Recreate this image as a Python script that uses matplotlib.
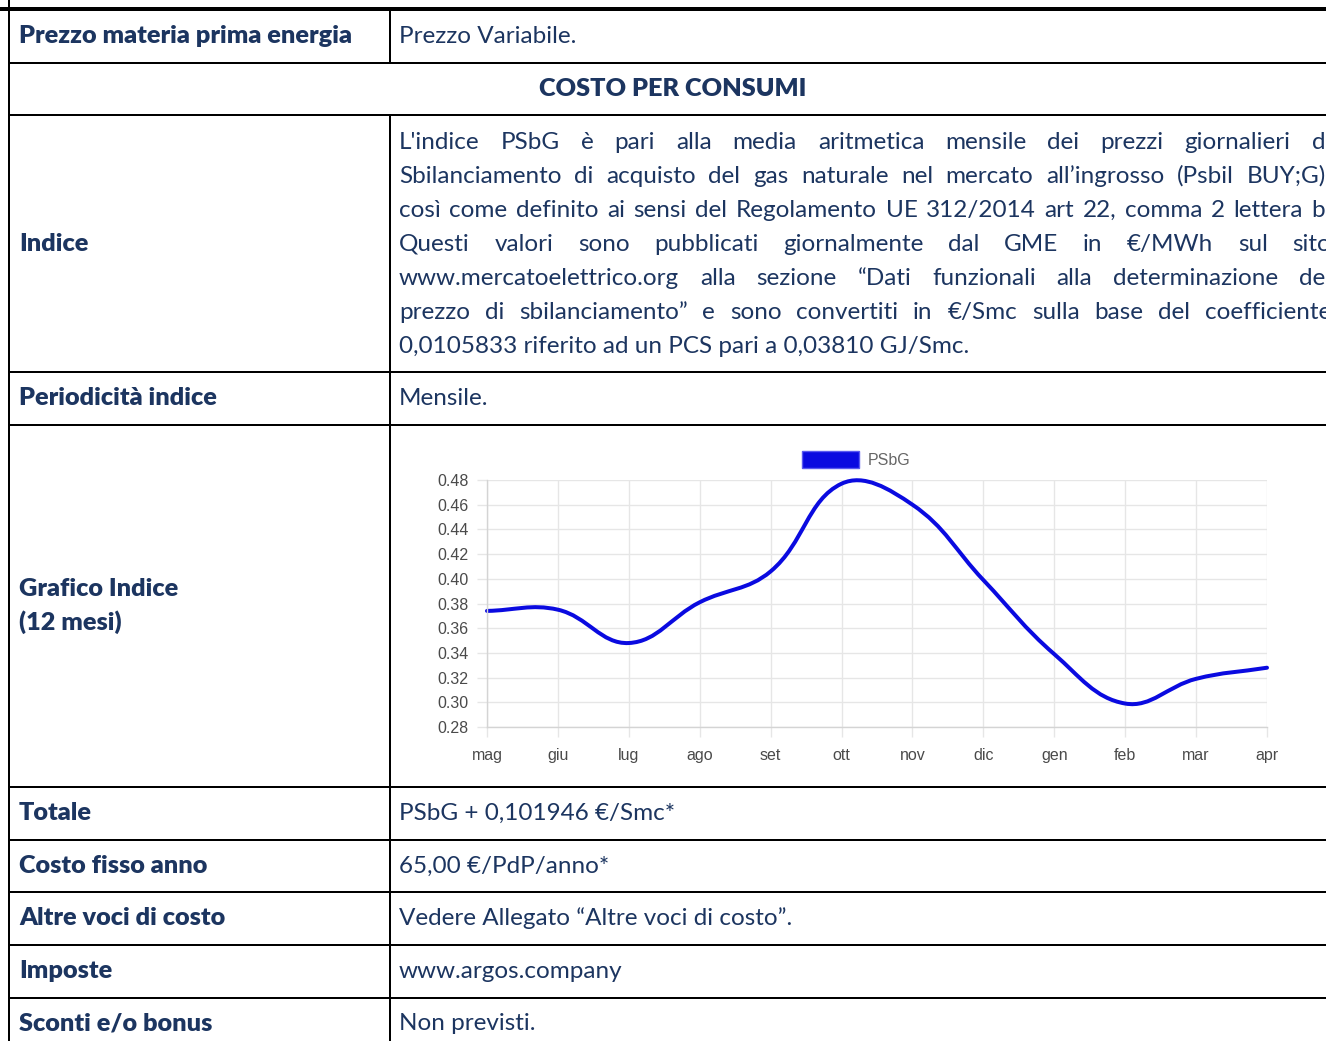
import matplotlib
matplotlib.use("Agg")
import matplotlib.pyplot as plt
import numpy as np
from matplotlib.path import Path
from matplotlib.patches import PathPatch, Patch

# ---------------- data ----------------
months = ["mag", "giu", "lug", "ago", "set", "ott", "nov", "dic", "gen", "feb", "mar", "apr"]
psbg = [0.374, 0.375, 0.348, 0.381, 0.406, 0.477, 0.460, 0.399, 0.339, 0.299, 0.319, 0.328]
y_ticks = [0.28, 0.30, 0.32, 0.34, 0.36, 0.38, 0.40, 0.42, 0.44, 0.46, 0.48]
series_name = "PSbG"

row_labels = ["Prezzo materia prima energia", "Indice", "Periodicità indice", "Grafico Indice\n(12 mesi)",
              "Totale", "Costo fisso anno", "Altre voci di costo", "Imposte", "Sconti e/o bonus"]
section_title = "COSTO PER CONSUMI"
simple_values = {
    "Prezzo materia prima energia": "Prezzo Variabile.",
    "Periodicità indice": "Mensile.",
    "Totale": "PSbG + 0,101946 €/Smc*",
    "Costo fisso anno": "65,00 €/PdP/anno*",
    "Altre voci di costo": "Vedere Allegato “Altre voci di costo”.",
    "Imposte": "www.argos.company",
    "Sconti e/o bonus": "Non previsti.",
}
indice_lines = [
    "L'indice PSbG è pari alla media aritmetica mensile dei prezzi giornalieri di",
    "Sbilanciamento di acquisto del gas naturale nel mercato all’ingrosso (Psbil BUY;G),",
    "così come definito ai sensi del Regolamento UE 312/2014 art 22, comma 2 lettera b.",
    "Questi valori sono pubblicati giornalmente dal GME in €/MWh sul sito",
    "www.mercatoelettrico.org alla sezione “Dati funzionali alla determinazione del",
    "prezzo di sbilanciamento” e sono convertiti in €/Smc sulla base del coefficiente",
    "0,0105833 riferito ad un PCS pari a 0,03810 GJ/Smc.",
]

# ---------------- figure ----------------
W, H = 1326, 1041
fig = plt.figure(figsize=(W / 100, H / 100), dpi=100)
fig.patch.set_facecolor("white")
bg = fig.add_axes([0, 0, 1, 1])
bg.set_xlim(0, W)
bg.set_ylim(H, 0)
bg.axis("off")

NAVY = "#1c3560"
FONT = "Lato"
FS = 17.5
FSB = 18.2
px = 0.72  # points per pixel

# table lines
hlines = [63, 115, 372, 425, 787, 840, 892, 945, 998]
bg.plot([0, W], [9, 9], color="black", lw=4 * px, solid_capstyle="butt")
for y in hlines:
    bg.plot([9, W], [y, y], color="black", lw=2 * px, solid_capstyle="butt")
bg.plot([9, 9], [0, H], color="black", lw=2 * px)
bg.plot([390, 390], [9, 63], color="black", lw=2 * px)
bg.plot([390, 390], [115, H], color="black", lw=2 * px)

fig.canvas.draw()
renderer = fig.canvas.get_renderer()


def put(x, y, s, bold=False, ha="left"):
    return bg.text(x, y, s, fontsize=FSB if bold else FS, family=FONT, color=NAVY,
                   fontweight="heavy" if bold else "normal", ha=ha, va="baseline")


def justify(line, y, x0, x1):
    words = line.split(" ")
    objs = [put(x0, y, w) for w in words]
    widths = [o.get_window_extent(renderer).width for o in objs]
    gap = (x1 - x0 - sum(widths)) / (len(words) - 1)
    x = x0
    for o, w in zip(objs, widths):
        o.set_x(x)
        x += w + gap


BOFF = 8
# left column labels
put(19, 35 + BOFF, row_labels[0], bold=True)
put(19, 243 + BOFF, row_labels[1], bold=True)
put(19, 397 + BOFF, row_labels[2], bold=True)
g1, g2 = row_labels[3].split("\n")
put(19, 588 + BOFF, g1, bold=True)
put(19, 622 + BOFF, g2, bold=True)
ys = [812, 865, 917, 970, 1022]
for lab, y in zip(row_labels[4:], ys):
    put(19, y + BOFF, lab, bold=True)
    put(399, y + BOFF, simple_values[lab])
put(399, 35 + BOFF, simple_values[row_labels[0]])
put(399, 397 + BOFF, simple_values[row_labels[2]])
put(673, 88 + BOFF, section_title, bold=True, ha="center")

for i, line in enumerate(indice_lines):
    y = 141 + 34 * i + BOFF
    if i < len(indice_lines) - 1:
        justify(line, y, 399, 1331)
    else:
        put(399, y, line)

# ---------------- chart ----------------
L, R, T, B = 487, 1267, 480, 727
ax = fig.add_axes([L / W, 1 - B / H, (R - L) / W, (B - T) / H])
ax.set_xlim(0, len(months) - 1)
ax.set_ylim(y_ticks[0], y_ticks[-1])
ax.set_xticks(range(len(months)))
ax.set_xticklabels(months)
ax.set_yticks(y_ticks)
ax.set_yticklabels([f"{v:.2f}" for v in y_ticks])
ax.grid(True, color="#e6e6e6", lw=1)
ax.set_axisbelow(True)
for s in ["top", "right"]:
    ax.spines[s].set_visible(False)
for s in ["left", "bottom"]:
    ax.spines[s].set_color("#d4d4d4")
    ax.spines[s].set_linewidth(1)
ax.tick_params(axis="both", length=10 * px, color="#e6e6e6", labelcolor="#4a4a4a",
               labelsize=11.5, width=1)
ax.tick_params(axis="x", pad=8)
ax.tick_params(axis="y", pad=6)
for lab in ax.get_xticklabels() + ax.get_yticklabels():
    lab.set_family("Liberation Sans")

# Chart.js-style bezier (tension 0.4) in pixel space
pts = ax.transData.transform(np.column_stack([np.arange(len(psbg)), psbg]))
n = len(pts)
tension = 0.4
cps_prev, cps_next = [], []
for i in range(n):
    prev = pts[max(i - 1, 0)]
    cur = pts[i]
    nxt = pts[min(i + 1, n - 1)]
    d01 = np.hypot(*(cur - prev))
    d12 = np.hypot(*(nxt - cur))
    tot = d01 + d12
    s01 = d01 / tot if tot else 0
    s12 = d12 / tot if tot else 0
    fa = tension * s01
    fb = tension * s12
    cps_prev.append(cur - fa * (nxt - prev))
    cps_next.append(cur + fb * (nxt - prev))
verts = [pts[0]]
codes = [Path.MOVETO]
for i in range(1, n):
    verts += [cps_next[i - 1], cps_prev[i], pts[i]]
    codes += [Path.CURVE4] * 3
verts = ax.transData.inverted().transform(np.array(verts))
path = Path(verts, codes)
ax.add_patch(PathPatch(path, facecolor="none", edgecolor="#0a0ae0", lw=4 * px,
                       transform=ax.transData, clip_on=False, capstyle="round", joinstyle="round"))

leg = ax.legend(handles=[Patch(facecolor="#0a0ae0", edgecolor="#5a5af0", lw=1)], labels=[series_name],
                loc="lower center", bbox_to_anchor=((856 - L) / (R - L), 1.0), frameon=False,
                handlelength=3.6, handleheight=1.3, handletextpad=0.5, borderaxespad=0.35,
                prop={"family": "Liberation Sans", "size": 11.5})
for t in leg.get_texts():
    t.set_color("#666666")

fig.savefig("out.png", dpi=100, facecolor="white")
